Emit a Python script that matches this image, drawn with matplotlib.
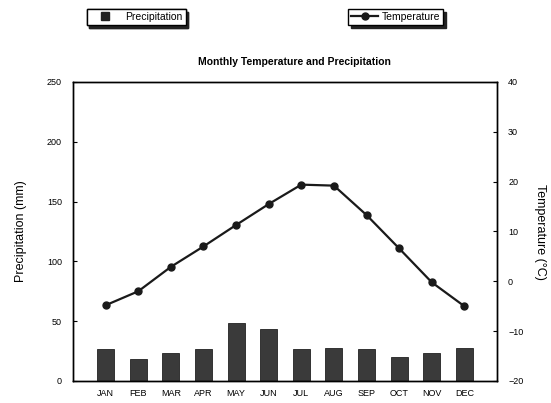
import matplotlib.pyplot as plt
from matplotlib.lines import Line2D
import numpy as np

plt.rcParams['font.family'] = ['Liberation Sans', 'DejaVu Sans']

# Monthly climate data
months = ["JAN", "FEB", "MAR", "APR", "MAY", "JUN",
          "JUL", "AUG", "SEP", "OCT", "NOV", "DEC"]
precip = [27, 18, 23.5, 27, 48.5, 43.5, 27, 28, 27, 20, 23.5, 28]
temp = [-4.8, -2.0, 2.9, 7.0, 11.3, 15.5, 19.4, 19.2, 13.3, 6.6, -0.2, -5.0]

x = np.arange(1, len(months) + 1)

fig = plt.figure(figsize=(5.51, 4.03), dpi=100)
ax = fig.add_axes([0.1325, 0.0546, 0.7695, 0.742])

ax.bar(x, precip, width=0.52, color="#3a3a3a", edgecolor="#222222",
       linewidth=0.6)
ax.set_xlim(0, 13)
ax.set_ylim(0, 250)
ax.set_yticks([0, 50, 100, 150, 200, 250])
ax.set_xticks(x)
ax.set_xticklabels(months)
ax.tick_params(axis="y", direction="in", length=3, labelsize=6.5, pad=8)
ax.tick_params(axis="x", length=0, labelsize=6.5, pad=6)
ax.set_ylabel("Precipitation (mm)", fontsize=9, labelpad=14)

ax2 = ax.twinx()
line, = ax2.plot(x, temp, color="#1a1a1a", linewidth=1.6, marker="o",
                 markersize=5, label="Temperature")
ax2.set_ylim(-20, 40)
ax2.set_yticks([-20, -10, 0, 10, 20, 30, 40])
ax2.tick_params(axis="y", direction="in", length=3, labelsize=6.5, pad=8)
ax2.set_ylabel("Temperature (°C)", fontsize=9, rotation=270, labelpad=16)

for a in (ax, ax2):
    for s in a.spines.values():
        s.set_linewidth(1.0)

fig.text(0.535, 0.845, "Monthly Temperature and Precipitation",
         ha="center", va="center", fontsize=7.5, fontweight="bold")

# separate legend boxes above the plot, one per series
bar_key = Line2D([], [], linestyle="none", marker="s", markersize=6,
                 color="#222222", label="Precipitation")
shadow = {"color": "#222222", "alpha": 1.0}
leg1 = fig.legend(handles=[bar_key], loc="center", bbox_to_anchor=(0.247, 0.958),
                  fontsize=7.5, frameon=True, fancybox=False, shadow=shadow,
                  handlelength=3.0, handletextpad=0.4, borderpad=0.3,
                  edgecolor="black", framealpha=1)
leg2 = fig.legend(handles=[line], loc="center", bbox_to_anchor=(0.718, 0.958),
                  fontsize=7.5, frameon=True, fancybox=False, shadow=shadow,
                  handlelength=2.6, borderpad=0.3, handletextpad=0.3,
                  edgecolor="black", framealpha=1)
fig.add_artist(leg1)

fig.savefig("out.png", dpi=100)
